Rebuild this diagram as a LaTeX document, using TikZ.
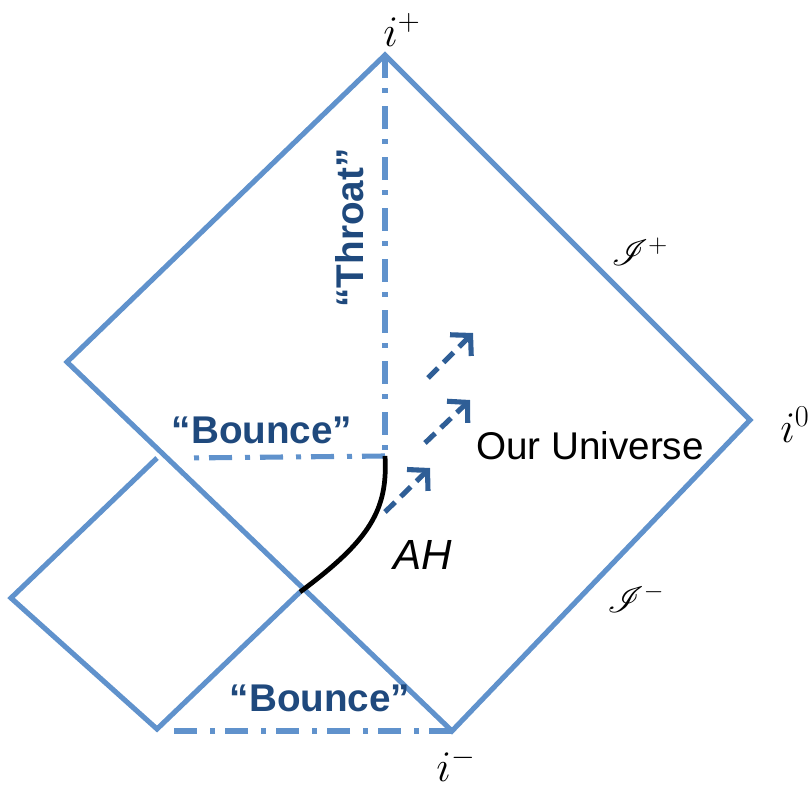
\documentclass[tikz,border=0pt]{standalone}
\usepackage{amsmath,amssymb}
\usepackage{mathrsfs}
\usepackage{fontspec}
\setmainfont{Liberation Sans}
\usepackage{xcolor}
\usepackage{tikz}
\usetikzlibrary{arrows.meta,positioning,calc}
\definecolor{penrose}{RGB}{96,146,204}
\definecolor{labelblue}{RGB}{31,73,125}
\definecolor{flowblue}{RGB}{47,94,150}
\tikzset{
  edge/.style={draw=penrose,line width=2.9pt,line join=miter},
  cutline/.style={draw=penrose,line width=2.9pt,dash pattern=on 4.6mm off 2mm on 1mm off 2.6mm},
  flow/.style={draw=flowblue,line width=2.9pt,dash pattern=on 2.8mm off 1.6mm,-{Straight Barb[length=2.8mm,width=6mm]}},
  horizon/.style={draw=black,line width=2.7pt},
  bouncelbl/.style={text=labelblue,font=\fontsize{22}{26}\selectfont\bfseries},
  mathlbl/.style={font=\fontsize{24}{28}\selectfont},
  scrilbl/.style={font=\fontsize{20}{24}\selectfont}
}

\begin{document}
\begin{tikzpicture}[x=0.2mm,y=-0.2mm]
\useasboundingbox (0,0) rectangle (811,792);
\coordinate (iplus) at (385,55);
\coordinate (izero) at (750,420);
\coordinate (iminus) at (452,731);
\coordinate (leftv) at (67,362);
\coordinate (cross) at (300,592);
\coordinate (smallleft) at (11,598);
\coordinate (smalltop) at (157,458);
\coordinate (smallbot) at (157,729);
\coordinate (bounce) at (385,456);
\coordinate (bounceend) at (185,458);
\coordinate (botbounce) at (173,731);
\coordinate (f1s) at (385,512); \coordinate (f1e) at (430,468);
\coordinate (f2s) at (425,443); \coordinate (f2e) at (470,400);
\coordinate (f3s) at (428,378); \coordinate (f3e) at (473,333);

\draw[edge] (leftv) -- (iplus) -- (izero) -- (iminus) -- cycle;
\draw[edge] (smalltop) -- (smallleft) -- (smallbot) -- (cross);
\draw[cutline] (iplus) -- (bounce);
\draw[cutline] (bounce) -- (bounceend);
\draw[cutline] (iminus) -- (botbounce);
\draw[horizon] (bounce) .. controls (388,510) and (370,540) .. (cross);
\draw[flow] (f1s) -- (f1e);
\draw[flow] (f2s) -- (f2e);
\draw[flow] (f3s) -- (f3e);

\node[mathlbl] (lblplus) at (402,30) {$i^{+}$};
\node[mathlbl] (lblzero) at (795,425) {$i^{0}$};
\node[mathlbl] (lblminus) at (456,765) {$i^{-}$};
\node[scrilbl] (scriplus) at (640,252) {$\mathscr{I}^{+}$};
\node[scrilbl] (scriminus) at (636,598) {$\mathscr{I}^{-}$};
\node[bouncelbl] (bounceup) at (262,430) {“Bounce”};
\node[bouncelbl] (bouncedown) at (320,698) {“Bounce”};
\node[bouncelbl,rotate=90] (throat) at (350,228) {“Throat”};
\node[font=\fontsize{22}{26}\selectfont] (ours) at (590,446) {Our Universe};
\node[font=\fontsize{24}{28}\selectfont\itshape] (ahlbl) at (423,555) {AH};
\end{tikzpicture}
\end{document}
